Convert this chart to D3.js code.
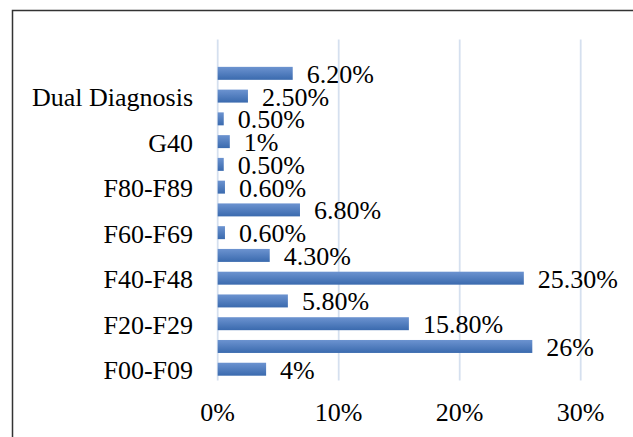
<!DOCTYPE html>
<html>
<head>
<meta charset="utf-8">
<script src="https://cdn.jsdelivr.net/npm/d3@7"></script>
<style>
  body { margin: 0; background: #fff; }
</style>
</head>
<body>
<svg id="chart"></svg>
<script>
const width = 633, height = 437;
const serif = "'Liberation Serif', Tinos, 'Times New Roman', 'DejaVu Serif', serif";

// categories bottom to top (only every other one is labelled in the original)
const categories = ["F00-F09", "F10-F19", "F20-F29", "F30-F39", "F40-F48", "F50-F59",
    "F60-F69", "F70-F79", "F80-F89", "F90-F98", "G40", "Other", "Dual Diagnosis", "No Diagnosis", ""];
const values = [4, 26, 15.8, 5.8, 25.3, 4.3, 0.6, 6.8, 0.6, 0.5, 1, 0.5, 2.5, 6.2, null];
const valueLabels = ["4%", "26%", "15.80%", "5.80%", "25.30%", "4.30%", "0.60%", "6.80%",
    "0.60%", "0.50%", "1%", "0.50%", "2.50%", "6.20%", ""];
const xTicks = [0, 10, 20, 30];

const svg = d3.select("#chart")
    .attr("width", width)
    .attr("height", height);

// gradient for the bars
const grad = svg.append("defs").append("linearGradient")
    .attr("id", "barGrad")
    .attr("x1", 0).attr("y1", 0).attr("x2", 0).attr("y2", 1);
grad.append("stop").attr("offset", "0%").attr("stop-color", "#6c93d0");
grad.append("stop").attr("offset", "100%").attr("stop-color", "#3a6aae");

// chart frame (runs off the right and bottom of the picture)
svg.append("rect")
    .attr("x", 12.5).attr("y", 10.5)
    .attr("width", 700).attr("height", 500)
    .attr("fill", "none")
    .attr("stroke", "#333")
    .attr("stroke-width", 1.5);

const x = d3.scaleLinear().domain([0, 30]).range([217.7, 580.7]);
const y = d3.scaleBand()
    .domain(d3.range(categories.length))
    .range([380.6, 39.2])
    .paddingInner(0.43)
    .paddingOuter(0.215);

function addText(g, xx, yy, str, anchor) {
    return g.append("text")
        .attr("x", xx)
        .attr("y", yy)
        .attr("text-anchor", anchor)
        .attr("font-family", serif)
        .attr("font-size", 26)
        .attr("fill", "#000")
        .text(str);
}

// gridlines
svg.append("g")
    .selectAll("line")
    .data(xTicks)
    .join("line")
    .attr("x1", d => x(d)).attr("x2", d => x(d))
    .attr("y1", 39.5).attr("y2", 380.5)
    .attr("stroke", "#d5e0ef")
    .attr("stroke-width", 1.8);

// bars
const data = values.map((v, i) => ({ i, v, label: valueLabels[i] })).filter(d => d.v != null);

svg.append("g")
    .selectAll("rect")
    .data(data)
    .join("rect")
    .attr("x", x(0))
    .attr("y", d => y(d.i))
    .attr("width", d => x(d.v) - x(0))
    .attr("height", y.bandwidth())
    .attr("fill", "url(#barGrad)");

// value labels
const valG = svg.append("g");
data.forEach(d => {
    addText(valG, x(d.v) + 14, y(d.i) + y.bandwidth() / 2 + 9.5, d.label, "start");
});

// category labels, every other one
const catG = svg.append("g");
categories.forEach((c, i) => {
    if (i % 2 === 0 && c) addText(catG, 193, y(i) + y.bandwidth() / 2 + 10, c, "end");
});

// x axis tick labels
const axG = svg.append("g");
xTicks.forEach(t => {
    addText(axG, x(t), 421, t + "%", "middle");
});
</script>
</body>
</html>
